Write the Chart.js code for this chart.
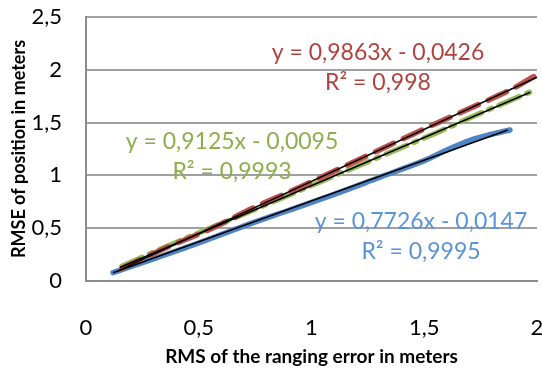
<!DOCTYPE html>
<html>
<head>
<meta charset="utf-8">
<script src="https://cdn.jsdelivr.net/npm/chart.js@4"></script>
<style>
  html, body { margin: 0; padding: 0; background: #fff; }
  #wrap { width: 542px; height: 372px; }
</style>
</head>
<body>
<div id="wrap"><canvas id="chart" width="542" height="372"></canvas></div>
<script>
"use strict";

// Mätvärden
const xBlue = [0.12, 0.3, 0.5, 0.7, 0.9, 1.1, 1.3, 1.5, 1.6, 1.7, 1.8, 1.88];
const yBlue = [0.08, 0.21, 0.36, 0.52, 0.67, 0.82, 0.98, 1.14, 1.24, 1.33, 1.39, 1.43];

const xGreen = [0.16, 0.35, 0.55, 0.75, 0.95, 1.15, 1.35, 1.55, 1.75, 1.97];
const yGreen = [0.14, 0.32, 0.50, 0.68, 0.86, 1.04, 1.22, 1.40, 1.59, 1.79];

const xRed = [0.16, 0.35, 0.55, 0.75, 0.95, 1.15, 1.35, 1.55, 1.75, 1.9, 2.02];
const yRed = [0.12, 0.31, 0.49, 0.70, 0.89, 1.09, 1.29, 1.49, 1.68, 1.83, 1.98];

// Trendlinjer: lutning, intercept, start- och slut-x
const trendSlope = [0.7726, 0.9125, 0.9863];
const trendIntercept = [-0.0147, -0.0095, -0.0426];
const trendFrom = [0.12, 0.15, 0.15];
const trendTo = [1.87, 1.97, 2.0];

const trendTexts = [
    ["y = 0,7726x - 0,0147", "R² = 0,9995"],
    ["y = 0,9125x - 0,0095", "R² = 0,9993"],
    ["y = 0,9863x - 0,0426", "R² = 0,998"]
];

const xTicks = [0, 0.5, 1, 1.5, 2];
const yTicks = [0, 0.5, 1, 1.5, 2, 2.5];

const blue = "#4F85C6";
const green = "#9BBB59";
const red = "#C0504D";

function toPoints(xs, ys) {
    return xs.map((x, i) => ({ x: x, y: ys[i] }));
}

function trendPoints(i) {
    return [trendFrom[i], trendTo[i]].map(x => ({ x: x, y: trendSlope[i] * x + trendIntercept[i] }));
}

const comma = v => String(v).replace(".", ",");

// Plugin som skriver ut ekvationerna
const labelPlugin = {
    id: "trendLabels",
    afterDatasetsDraw(chart) {
        const ctx = chart.ctx;
        const spots = [
            { color: "#5B93D6", x: 421, y: 222 },
            { color: "#8DAF4B", x: 232, y: 142 },
            { color: "#B0433F", x: 378, y: 53 }
        ];
        ctx.save();
        ctx.font = "23px Lato";
        ctx.textAlign = "center";
        ctx.textBaseline = "middle";
        spots.forEach((s, i) => {
            ctx.fillStyle = s.color;
            const t = trendTexts[i];
            ctx.fillText(t[0], s.x, s.y);
            ctx.fillText(t[1], s.x, s.y + 30);
        });
        ctx.restore();
    }
};

// Rita diagrammet
new Chart(document.getElementById("chart"), {
    type: "scatter",
    data: {
        datasets: [
            { data: trendPoints(0), showLine: true, borderColor: "#000", borderWidth: 1.6, pointRadius: 0 },
            { data: trendPoints(1), showLine: true, borderColor: "#000", borderWidth: 1.6, pointRadius: 0 },
            { data: trendPoints(2), showLine: true, borderColor: "#000", borderWidth: 1.6, pointRadius: 0, clip: false },
            { data: toPoints(xRed, yRed), showLine: true, borderColor: red, borderWidth: 5.5, borderDash: [20, 11], borderCapStyle: "round", pointRadius: 0, tension: 0.3, clip: false },
            { data: toPoints(xGreen, yGreen), showLine: true, borderColor: green, borderWidth: 5.5, borderDash: [22, 8, 3, 8], borderCapStyle: "round", pointRadius: 0, tension: 0.3 },
            { data: toPoints(xBlue, yBlue), showLine: true, borderColor: blue, borderWidth: 5.5, borderCapStyle: "round", pointRadius: 0, tension: 0.3 }
        ]
    },
    options: {
        responsive: false,
        animation: false,
        events: [],
        layout: { padding: { top: 17, right: 5, left: 0, bottom: 0 } },
        plugins: {
            legend: { display: false },
            tooltip: { enabled: false }
        },
        scales: {
            x: {
                type: "linear",
                min: 0,
                max: 2,
                afterBuildTicks: axis => { axis.ticks = xTicks.map(v => ({ value: v })); },
                afterFit: axis => { axis.height = 91; axis.paddingLeft = 0; axis.paddingRight = 0; },
                grid: { display: false, drawTicks: false },
                border: { display: true, color: "#8c8c8c", width: 2 },
                ticks: { padding: 34, color: "#000", font: { family: "Lato", size: 22 }, callback: v => comma(v), maxRotation: 0 },
                title: { display: true, text: "RMS of the ranging error in meters", color: "#000", font: { family: "Lato", size: 19, weight: "bold" }, padding: { top: 0 } }
            },
            y: {
                type: "linear",
                min: 0,
                max: 2.5,
                afterBuildTicks: axis => { axis.ticks = yTicks.map(v => ({ value: v })); },
                afterFit: axis => { axis.width = 86; axis.paddingTop = 0; axis.paddingBottom = 0; },
                grid: { color: "#a0a0a0", lineWidth: 2, drawTicks: false },
                border: { display: true, color: "#8c8c8c", width: 2 },
                ticks: { padding: 24, color: "#000", font: { family: "Lato", size: 22 }, callback: v => comma(v) },
                title: { display: true, text: "RMSE of position in meters", color: "#000", font: { family: "Lato", size: 18, weight: "bold" }, padding: { top: 8, bottom: 0 } }
            }
        }
    },
    plugins: [labelPlugin]
});
</script>
</body>
</html>
